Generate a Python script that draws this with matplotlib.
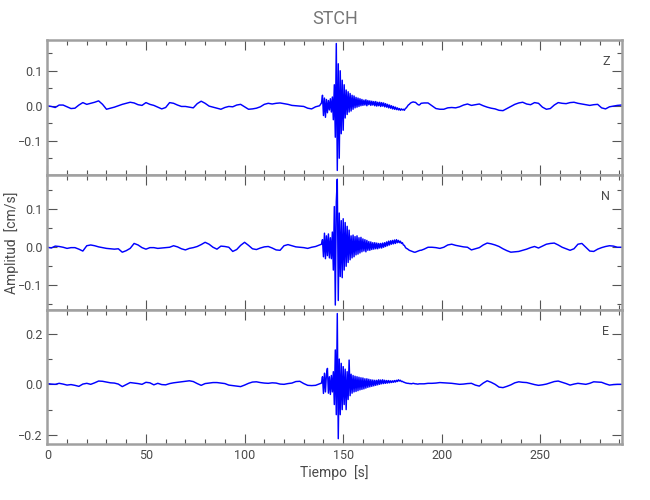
import numpy as np
import matplotlib
matplotlib.use('Agg')
import matplotlib.pyplot as plt
from matplotlib.ticker import MultipleLocator, FuncFormatter

plt.rcParams['font.family'] = ['Roboto', 'DejaVu Sans']

# ground velocity [cm/s]
# quiet part before the event, one sample every 2 s from t = 0
z_pre = [0.000, -0.002, -0.005, 0.002, 0.002, -0.003, -0.008, -0.007, 0.002, 0.009,
         0.004, 0.007, 0.010, 0.014, 0.004, -0.010, -0.007, -0.004, 0.000, 0.004,
         0.007, 0.010, 0.008, 0.003, 0.001, 0.009, 0.004, 0.001, -0.004, -0.009,
         -0.005, 0.009, 0.007, 0.002, -0.002, -0.002, -0.004, -0.006, 0.006, 0.013,
         0.007, -0.001, -0.004, -0.007, -0.010, -0.005, -0.002, -0.003, 0.002, 0.004,
         -0.003, -0.010, -0.009, -0.007, -0.003, 0.004, 0.007, 0.005, 0.007, 0.008,
         0.006, 0.004, 0.001, 0.000, -0.001, -0.002, -0.007, -0.009, -0.003, 0.000]
n_pre = [0.000, -0.002, 0.003, 0.002, 0.000, -0.003, -0.001, -0.001, -0.005, -0.010,
         0.004, 0.006, 0.004, 0.001, -0.001, -0.003, -0.004, -0.005, -0.004, -0.013,
         -0.009, -0.003, 0.010, 0.006, -0.001, -0.005, -0.001, -0.001, -0.003, -0.002,
         -0.001, 0.000, 0.004, 0.001, -0.004, -0.007, -0.003, -0.001, 0.002, 0.007,
         0.013, 0.008, 0.000, -0.005, 0.003, 0.002, 0.000, -0.011, -0.006, 0.005,
         0.013, 0.005, -0.004, -0.006, -0.002, 0.001, 0.002, -0.002, -0.007, -0.008,
         0.004, 0.007, 0.004, 0.001, 0.000, -0.001, -0.003, 0.000, 0.002, 0.006]
e_pre = [0.003, 0.001, 0.000, 0.004, 0.001, -0.003, -0.001, -0.004, -0.008, 0.001,
         0.004, 0.000, 0.006, 0.013, 0.012, 0.009, 0.006, 0.005, 0.001, -0.009,
         -0.001, 0.007, 0.005, 0.003, 0.000, 0.008, 0.006, -0.002, 0.004, -0.001,
         -0.002, 0.003, 0.006, 0.008, 0.010, 0.012, 0.014, 0.011, 0.003, -0.004,
         0.003, 0.005, 0.007, 0.007, 0.005, 0.003, -0.003, -0.005, -0.007, -0.009,
         -0.003, 0.004, 0.009, 0.010, 0.007, 0.005, 0.004, 0.006, 0.005, 0.001,
         0.000, 0.003, 0.005, 0.011, 0.012, 0.003, -0.004, -0.005, -0.004, 0.002]

# the event, one sample every 0.5 s from t = 139
z_burst = [0.008, 0.030, -0.028, 0.022, -0.033, 0.018, -0.020, 0.015, -0.012, 0.020,
           -0.018, 0.025, -0.040, 0.060, -0.090, 0.178, -0.185, 0.120, -0.150, 0.100,
           -0.080, 0.073, -0.070, 0.060, -0.035, 0.045, -0.025, 0.040, -0.018, 0.035,
           -0.015, 0.030, -0.010, 0.028, -0.006, 0.024, -0.004, 0.022, -0.002, 0.020,
           0.000, 0.018, 0.001, 0.016, 0.002, 0.017, 0.000, 0.015, 0.003, 0.014,
           0.001, 0.013, 0.002, 0.012, 0.000, 0.012, -0.001, 0.010, 0.000, 0.010,
           -0.002, 0.009, -0.001, 0.008, -0.003, 0.006, -0.004, 0.004, -0.006, 0.002,
           -0.007, 0.000, -0.009, -0.002, -0.010, -0.004, -0.011, -0.006, -0.012, -0.008,
           -0.013, -0.009, -0.012, -0.010, -0.013, -0.008, -0.006, -0.002, 0.002, 0.004,
           0.007, 0.009, 0.010, 0.011, 0.010, 0.010, 0.008, 0.005, 0.003, 0.002,
           0.004, 0.007]
n_burst = [0.008, 0.020, -0.025, 0.037, -0.030, 0.030, -0.022, 0.035, -0.028, 0.025,
           -0.030, 0.040, -0.060, 0.107, -0.152, 0.120, 0.179, -0.140, 0.090, -0.077,
           0.070, -0.080, 0.075, -0.060, 0.065, -0.050, 0.055, -0.040, 0.045, -0.033,
           0.030, -0.028, 0.032, -0.025, 0.028, -0.020, 0.030, -0.018, 0.025, -0.015,
           0.026, -0.012, 0.022, -0.010, 0.020, -0.012, 0.018, -0.008, 0.015, -0.008,
           0.014, -0.006, 0.012, -0.005, 0.012, -0.004, 0.011, -0.004, 0.010, -0.002,
           0.010, -0.002, 0.011, 0.000, 0.012, 0.002, 0.014, 0.004, 0.016, 0.006,
           0.017, 0.008, 0.018, 0.009, 0.019, 0.010, 0.020, 0.012, 0.018, 0.012,
           0.016, 0.010, 0.012, 0.006, 0.005, 0.000, -0.003, -0.004, -0.006, -0.008,
           -0.009, -0.010, -0.011, -0.012, -0.013, -0.013, -0.012, -0.011, -0.010, -0.009,
           -0.008, -0.008]
e_burst = [0.005, 0.030, -0.036, 0.044, -0.030, 0.040, 0.063, -0.035, 0.030, -0.040,
           0.035, -0.030, 0.050, -0.080, 0.136, -0.120, 0.280, -0.215, 0.100, -0.120,
           0.083, -0.100, 0.070, -0.080, 0.060, -0.100, 0.050, -0.060, 0.096, -0.045,
           0.040, -0.035, 0.035, -0.030, 0.032, -0.028, 0.030, -0.025, 0.028, -0.022,
           0.026, -0.020, 0.025, -0.018, 0.022, -0.015, 0.022, -0.012, 0.020, -0.010,
           0.018, -0.008, 0.017, -0.006, 0.016, -0.004, 0.016, -0.002, 0.018, 0.000,
           0.017, 0.002, 0.018, 0.003, 0.016, 0.004, 0.015, 0.005, 0.015, 0.006,
           0.014, 0.007, 0.014, 0.008, 0.015, 0.009, 0.016, 0.011, 0.018, 0.013,
           0.016, 0.011, 0.012, 0.009, 0.008, 0.006, 0.005, 0.004, 0.004, 0.003,
           0.003, 0.002, 0.003, 0.004, 0.003, 0.002, 0.002, 0.001, 0.001, 0.002,
           0.002, 0.002]

# after the event, one sample every 2 s from t = 191
z_post = [0.008, 0.008, 0.000, -0.008, -0.010, -0.010, -0.006, -0.005, -0.006, -0.003,
          0.002, 0.005, 0.001, 0.003, 0.005, 0.000, -0.004, -0.007, -0.009, -0.013,
          -0.014, -0.008, -0.002, 0.004, 0.008, 0.010, 0.005, 0.003, 0.009, 0.007,
          -0.004, -0.010, -0.008, 0.002, 0.009, 0.007, 0.006, 0.009, 0.010, 0.007,
          0.005, 0.003, 0.001, 0.003, 0.004, -0.006, -0.009, -0.003, -0.001, 0.001,
          0.002]
n_post = [-0.005, 0.000, 0.000, -0.001, -0.003, 0.000, 0.006, 0.008, 0.005, 0.003,
          0.001, 0.000, -0.007, -0.004, -0.001, 0.006, 0.011, 0.009, 0.006, 0.002,
          -0.004, -0.009, -0.013, -0.012, -0.011, -0.008, -0.005, -0.001, 0.002, -0.002,
          0.003, 0.008, 0.010, 0.011, 0.006, 0.000, -0.004, -0.008, -0.004, 0.008,
          0.010, 0.000, -0.010, -0.011, -0.005, -0.001, 0.002, 0.004, 0.003, 0.000,
          0.000]
e_post = [0.002, 0.004, 0.004, 0.005, 0.007, 0.006, 0.005, 0.004, 0.002, 0.000,
          0.001, 0.003, 0.004, -0.003, -0.007, 0.005, 0.014, 0.008, 0.000, -0.011,
          -0.013, -0.008, -0.002, 0.006, 0.010, 0.008, 0.007, 0.003, -0.001, -0.004,
          -0.002, 0.001, 0.006, 0.011, 0.013, 0.008, 0.003, -0.003, 0.001, 0.004,
          0.002, 0.000, 0.004, 0.010, 0.009, 0.008, 0.002, -0.003, -0.001, 0.000,
          0.000]

components = ['Z', 'N', 'E']
pre = [z_pre, n_pre, e_pre]
burst = [z_burst, n_burst, e_burst]
post = [z_post, n_post, e_post]
ylims = [(-0.198, 0.188), (-0.165, 0.190), (-0.236, 0.294)]
ysteps = [0.1, 0.1, 0.2]

grey = '#a0a0a0'
txt = '#4a4a4a'

fig = plt.figure(figsize=(6.5, 5), dpi=100)
bottoms = [0.65, 0.38, 0.112]
heights = [0.27, 0.27, 0.268]

yfmt = FuncFormatter(lambda y, pos: ('%.1f' % y).replace('-', '\u2212'))

for i in range(3):
    ax = fig.add_axes([0.0728, bottoms[i], 0.884, heights[i]])
    t = np.concatenate([2.0 * np.arange(len(pre[i])),
                        139 + 0.5 * np.arange(len(burst[i])),
                        191 + 2.0 * np.arange(len(post[i]))])
    v = np.concatenate([pre[i], burst[i], post[i]])
    ax.plot(t, v, color='#0000ff', lw=1.05)

    ax.set_xlim(0, 291.3)
    ax.set_ylim(*ylims[i])
    ax.xaxis.set_major_locator(MultipleLocator(50))
    ax.xaxis.set_minor_locator(MultipleLocator(10))
    ax.yaxis.set_major_locator(MultipleLocator(ysteps[i]))
    ax.yaxis.set_minor_locator(MultipleLocator(ysteps[i] / 2))
    ax.yaxis.set_major_formatter(yfmt)
    ax.tick_params(which='both', direction='in', top=True, right=True,
                   color='#555555', labelcolor=txt, labelsize=9, width=0.8)
    ax.tick_params(which='major', length=7)
    ax.tick_params(which='minor', length=3.5)
    for s in ax.spines.values():
        s.set_color(grey)
        s.set_linewidth(1.8)
    if i < 2:
        ax.set_xticklabels([])
    else:
        ax.set_xlabel('Tiempo  [s]', color=txt, fontsize=10, labelpad=2)
    ax.text(0.972, 0.84, components[i], transform=ax.transAxes,
            ha='center', va='center', color=txt, fontsize=9)

fig.text(0.515, 0.963, 'STCH', ha='center', va='center', color='#777777', fontsize=13)
fig.text(0.018, 0.515, 'Amplitud  [cm/s]', rotation=90, ha='center', va='center',
         color=txt, fontsize=10)

fig.savefig('out.png', dpi=100)
